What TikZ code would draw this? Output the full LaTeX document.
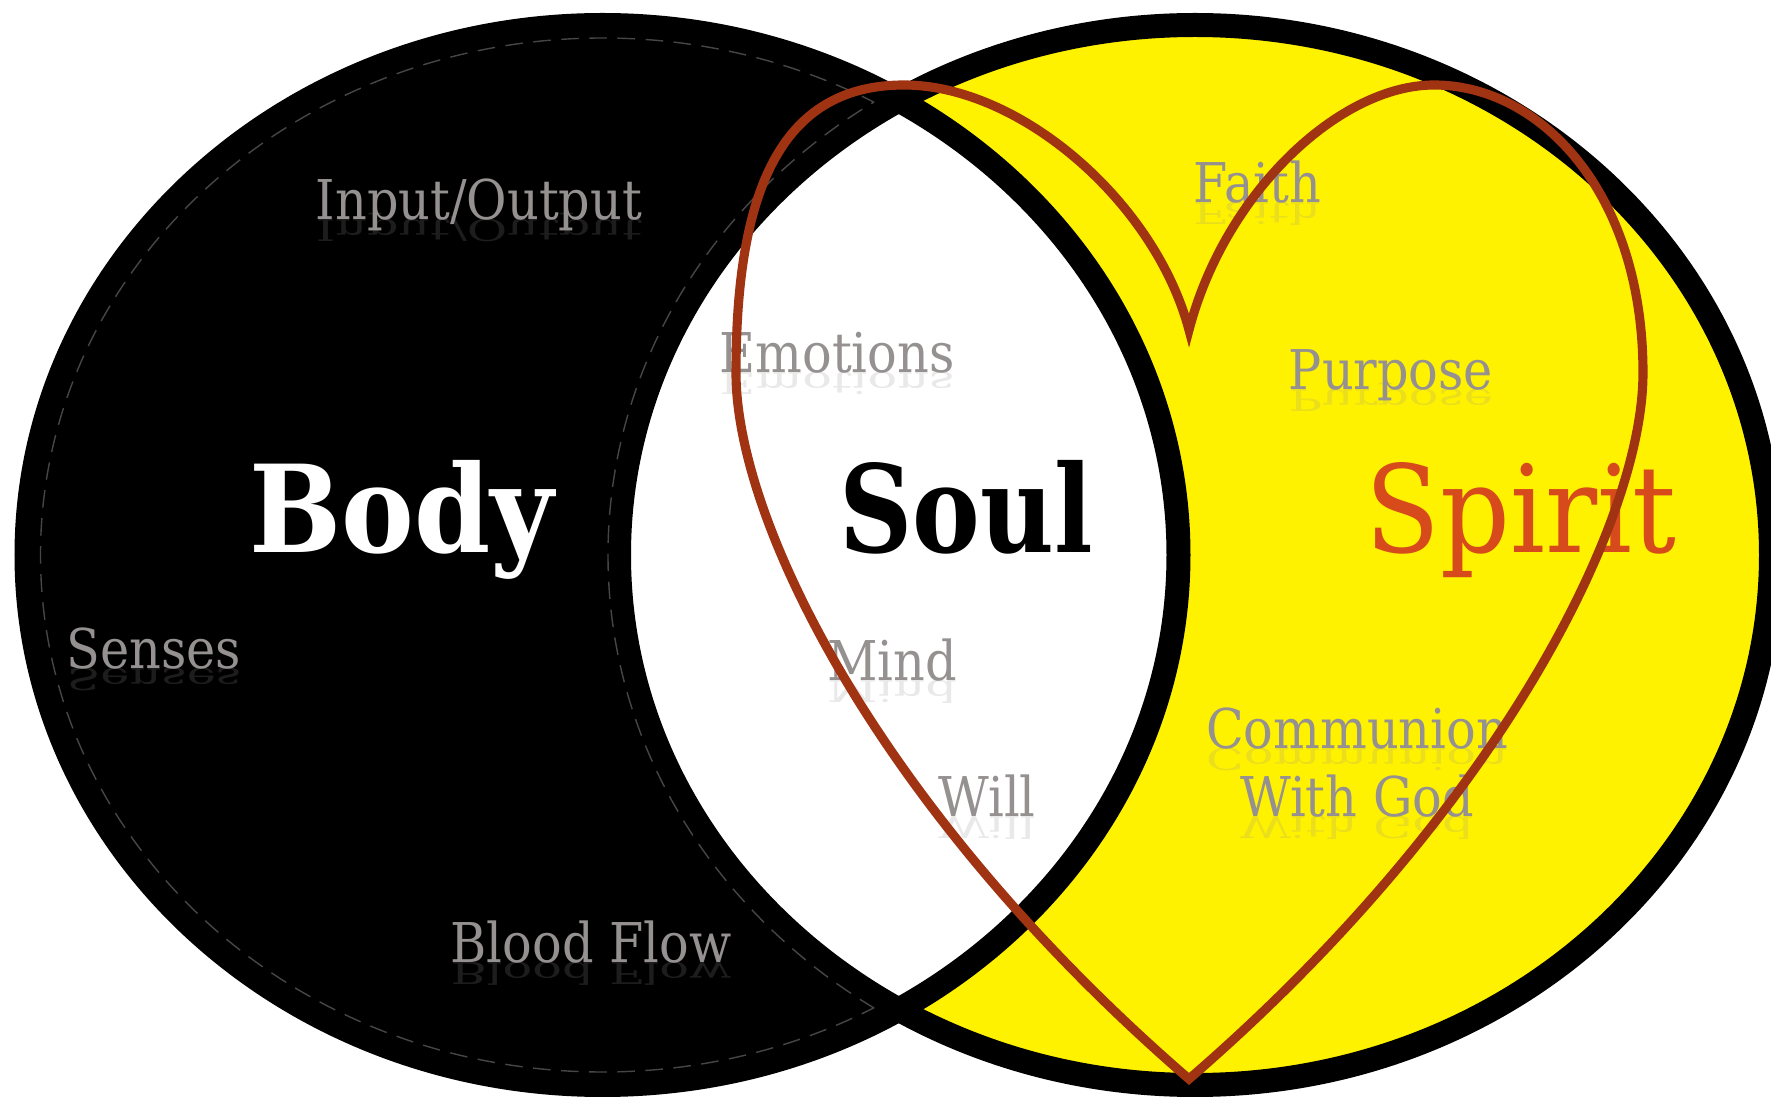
\documentclass[tikz,border=0pt]{standalone}
\usepackage{fontspec}
\newfontfamily\slab[FakeStretch=0.9]{DejaVu Serif}
\usepackage{tikz}
\definecolor{spirityellow}{RGB}{255,242,0}
\definecolor{heartred}{RGB}{160,52,18}
\definecolor{spiritred}{RGB}{214,74,28}
\definecolor{labelgray}{RGB}{150,145,145}
\definecolor{creasegray}{RGB}{70,70,70}
% gray label plus its faded mirror image
\newcommand{\softlabel}[3]{%
  \node[lbl] (#1) at (#2) {#3};
  \node[mirror] at (#1.base) {#3};}

\begin{document}
\begin{tikzpicture}[
  lbl/.style={anchor=base, inner sep=0pt, text=labelgray,
              font=\slab\fontsize{15.6}{18}\selectfont},
  mirror/.style={lbl, yscale=-0.55, transform shape, opacity=0.2},
  big/.style={anchor=base, inner sep=0pt, font=\slab\fontsize{34.5}{40}\selectfont},
  crease/.style={draw=creasegray, line width=0.4pt, dash pattern=on 5pt off 3pt},
  rim/.style={line width=0.24cm},
  heart/.style={draw=heartred, line width=2.6pt}
]
\fill[white] (0,0) rectangle (17.71,11.02);
\useasboundingbox (0,0) rectangle (17.71,11.02);

\coordinate (lc) at (6.025,5.47);
\coordinate (rc) at (11.95,5.47);

% the two circles and the lens
\fill[spirityellow] (rc) ellipse [x radius=5.76, y radius=5.30];
\fill[black] (lc) ellipse [x radius=5.76, y radius=5.30];
\begin{scope}
  \clip (rc) ellipse [x radius=5.76, y radius=5.30];
  \fill[white] (lc) ellipse [x radius=5.76, y radius=5.30];
\end{scope}
\draw[rim] (rc) ellipse [x radius=5.76, y radius=5.30];
\draw[rim] (lc) ellipse [x radius=5.76, y radius=5.30];

% dashed seam inside the body crescent
\begin{scope}[even odd rule]
  \clip (-1,-1) rectangle (19,12) (rc) ellipse [x radius=5.87, y radius=5.41];
  \draw[crease] (lc) ellipse [x radius=5.62, y radius=5.17];
\end{scope}
\begin{scope}
  \clip (lc) ellipse [x radius=5.62, y radius=5.17];
  \draw[crease] (rc) ellipse [x radius=5.87, y radius=5.41];
\end{scope}

% big words
\node[big, text=white] (body) at (4.02,5.49) {\bfseries Body};
\node[big, text=black, xscale=0.93, transform shape] (soul) at (9.66,5.49) {\bfseries Soul};
\node[big, text=spiritred] (spirit) at (15.21,5.49) {Spirit};

% small words
\softlabel{inout}{4.79,8.82}{Input/Output}
\softlabel{emotions}{8.37,7.29}{Emotions}
\softlabel{faith}{12.57,8.99}{Faith}
\softlabel{purpose}{13.91,7.12}{Purpose}
\softlabel{senses}{1.54,4.33}{Senses}
\softlabel{mind}{8.92,4.21}{Mind}
\softlabel{communion}{13.57,3.53}{Communion}
\softlabel{withgod}{13.57,2.85}{With God}
\softlabel{will}{9.87,2.85}{Will}
\softlabel{blood}{5.91,1.39}{Blood Flow}

% heart
\coordinate (dip) at (11.89,7.72);
\coordinate (ltop) at (9.04,10.17);
\coordinate (lside) at (7.36,7.29);
\coordinate (tip) at (11.89,0.23);
\coordinate (rside) at (16.43,7.29);
\coordinate (rtop) at (14.34,10.17);
\draw[heart] (dip) .. controls (11.55,9.0) and (10.2,10.17) .. (ltop)
  .. controls (7.8,10.17) and (7.36,9.1) .. (lside)
  .. controls (7.36,5.8) and (8.8,2.9) .. (tip)
  .. controls (14.98,2.9) and (16.43,5.8) .. (rside)
  .. controls (16.43,9.1) and (15.4,10.17) .. (rtop)
  .. controls (13.4,10.17) and (12.25,9.1) .. cycle;
\end{tikzpicture}
\end{document}
